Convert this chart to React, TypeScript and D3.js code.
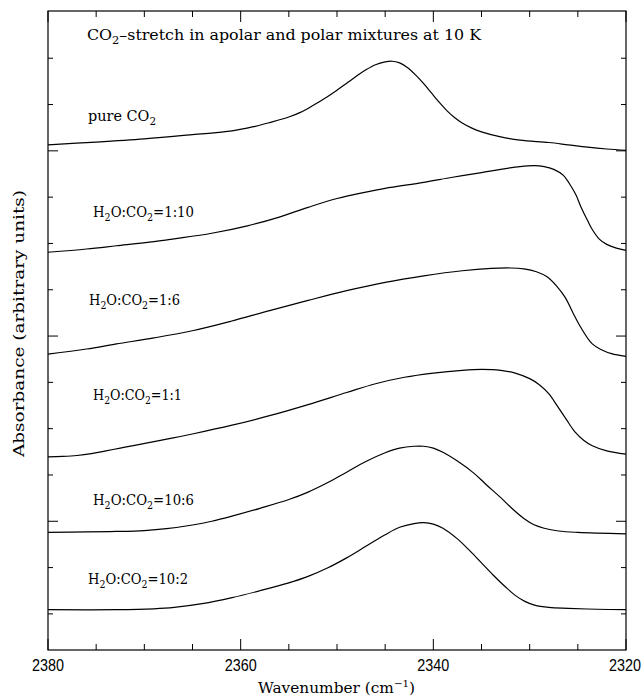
import React from "react";
import * as d3 from "d3";

// wavenumber (cm^-1) / absorbance (arbitrary, offset)
const pureWn = [2380, 2375, 2370, 2365, 2360.9, 2358.5, 2357, 2355, 2353.8, 2352.5, 2351, 2350, 2349, 2348, 2347, 2346, 2345, 2344.3, 2343.5, 2342.7, 2341.8, 2341, 2340.2, 2339.4, 2338.6, 2337.8, 2337, 2336, 2335, 2333, 2331, 2328, 2326, 2324, 2322, 2320];
const pureAbs = [8.13, 8.19, 8.26, 8.35, 8.43, 8.53, 8.61, 8.73, 8.83, 8.98, 9.17, 9.31, 9.46, 9.61, 9.75, 9.86, 9.92, 9.935, 9.9, 9.8, 9.63, 9.45, 9.25, 9.05, 8.87, 8.72, 8.6, 8.49, 8.41, 8.3, 8.23, 8.18, 8.13, 8.08, 8.04, 8.01];

const mix1to10Wn = [2380, 2376, 2372.9, 2369, 2366.9, 2363, 2359.3, 2356, 2353, 2350, 2347, 2345, 2341, 2338, 2335, 2333, 2331, 2329.5, 2328.5, 2327.5, 2326.5, 2325.9, 2325.2, 2324.7, 2324, 2323.5, 2322.8, 2322, 2321, 2320];
const mix1to10Abs = [5.81, 5.88, 5.95, 6.04, 6.1, 6.22, 6.38, 6.57, 6.78, 6.97, 7.11, 7.19, 7.32, 7.43, 7.53, 7.6, 7.66, 7.68, 7.66, 7.6, 7.47, 7.3, 7.05, 6.8, 6.5, 6.3, 6.1, 5.98, 5.9, 5.85];

const mix1to6Wn = [2380, 2376, 2372.9, 2369, 2364.9, 2361, 2357, 2353, 2349, 2345, 2341, 2337, 2334, 2332, 2330.6, 2329.3, 2328.2, 2327.2, 2326.3, 2325.5, 2324.7, 2323.5, 2322.5, 2321.5, 2320];
const mix1to6Abs = [3.61, 3.72, 3.83, 3.96, 4.12, 4.32, 4.55, 4.77, 4.98, 5.16, 5.3, 5.41, 5.46, 5.47, 5.45, 5.39, 5.28, 5.08, 4.83, 4.5, 4.19, 3.83, 3.7, 3.62, 3.56];

const mix1to1Wn = [2380, 2378.5, 2377, 2375.5, 2374, 2372.5, 2371, 2369, 2367, 2364.9, 2361, 2357, 2353, 2349, 2346, 2343, 2340, 2337, 2335, 2333, 2331.5, 2330, 2329, 2328, 2327.1, 2326.2, 2325.3, 2324.4, 2323.5, 2322, 2320];
const mix1to1Abs = [1.39, 1.4, 1.42, 1.46, 1.52, 1.58, 1.64, 1.72, 1.8, 1.89, 2.07, 2.28, 2.52, 2.78, 2.97, 3.11, 3.2, 3.26, 3.28, 3.26, 3.2, 3.08, 2.95, 2.75, 2.48, 2.2, 1.93, 1.75, 1.63, 1.52, 1.45];

const mix10to6Wn = [2380, 2376, 2372.9, 2370, 2367.7, 2365, 2363, 2360.9, 2358, 2355, 2353, 2351, 2349, 2347, 2345, 2343.5, 2342, 2341, 2340, 2339, 2337.5, 2335.8, 2334.5, 2333, 2331.8, 2330.6, 2329.6, 2328.5, 2327, 2325, 2320];
const mix10to6Abs = [-0.24, -0.23, -0.22, -0.2, -0.16, -0.08, 0.0, 0.11, 0.28, 0.47, 0.63, 0.83, 1.06, 1.29, 1.48, 1.58, 1.62, 1.62, 1.58, 1.49, 1.3, 1.04, 0.79, 0.51, 0.27, 0.06, -0.07, -0.15, -0.21, -0.24, -0.27];

const mix10to2Wn = [2380, 2372.9, 2369, 2366.9, 2364, 2360.9, 2358, 2355, 2353, 2351, 2349, 2347, 2345, 2343.5, 2342, 2341, 2340, 2339, 2337.5, 2336.2, 2335, 2333.8, 2332.5, 2331.5, 2330.5, 2329.5, 2328, 2326, 2323, 2320];
const mix10to2Abs = [-1.91, -1.91, -1.89, -1.86, -1.78, -1.65, -1.5, -1.33, -1.19, -1.01, -0.79, -0.54, -0.29, -0.13, -0.05, -0.03, -0.06, -0.15, -0.38, -0.64, -0.9, -1.16, -1.42, -1.6, -1.73, -1.81, -1.86, -1.88, -1.9, -1.91];

const xTickLabels = [2380, 2360, 2340, 2320];

const series = [
  { wn: pureWn, abs: pureAbs },
  { wn: mix1to10Wn, abs: mix1to10Abs },
  { wn: mix1to6Wn, abs: mix1to6Abs },
  { wn: mix1to1Wn, abs: mix1to1Abs },
  { wn: mix10to6Wn, abs: mix10to6Abs },
  { wn: mix10to2Wn, abs: mix10to2Abs },
];

// text pieces: [text, 1 if subscript]
type Piece = [string, number];
const titleText: Piece[] = [["CO", 0], ["2", 1], ["\u2013stretch in apolar and polar mixtures at 10 K", 0]];
const pureText: Piece[] = [["pure CO", 0], ["2", 1]];
const mixText = (r: string): Piece[] => [["H", 0], ["2", 1], ["O:CO", 0], ["2", 1], ["=" + r, 0]];

const labels = [
  { pieces: pureText, x: 88, y: 121, len: 68 },
  { pieces: mixText("1:10"), x: 93, y: 217, len: 101 },
  { pieces: mixText("1:6"), x: 89, y: 305, len: 91 },
  { pieces: mixText("1:1"), x: 93, y: 400, len: 89 },
  { pieces: mixText("10:6"), x: 93, y: 505, len: 101 },
  { pieces: mixText("10:2"), x: 88, y: 584, len: 100 },
];

const serif = "'DejaVu Serif', 'Liberation Serif', serif";

function pieceSpans(pieces: Piece[], size: number) {
  let prev = 0;
  return pieces.map(([t, sub], i) => {
    const dy = (sub - prev) * 4;
    prev = sub;
    return (
      <tspan key={i} dy={dy} fontSize={sub ? size * 0.72 : size}>
        {t}
      </tspan>
    );
  });
}

export default function App() {
  const width = 643;
  const height = 696;
  const left = 48;
  const right = 626;
  const top = 11;
  const bottom = 650;

  const x = d3.scaleLinear().domain([2380, 2320]).range([left, right]);
  const y = d3.scaleLinear().domain([-2.78, 11.02]).range([bottom, top]);

  const lineGen = d3
    .line<[number, number]>()
    .x((d) => x(d[0]))
    .y((d) => y(d[1]))
    .curve(d3.curveCatmullRom.alpha(0.5));

  const xTicks = d3.range(2320, 2381, 5);
  const yTicks = d3.range(-2, 11, 1);

  return (
    <svg
      width={width}
      height={height}
      style={{ position: "absolute", left: 0, top: 0, background: "#fff" }}
    >
      <rect x={0} y={0} width={width} height={height} fill="#fff" />
      <rect
        x={left}
        y={top}
        width={right - left}
        height={bottom - top}
        fill="none"
        stroke="#000"
        strokeWidth={1.2}
      />
      {xTicks.map((t) => {
        const len = t % 20 === 0 ? 11 : 6;
        return (
          <g key={"xt" + t} stroke="#000" strokeWidth={1}>
            <line x1={x(t)} x2={x(t)} y1={bottom} y2={bottom - len} />
            <line x1={x(t)} x2={x(t)} y1={top} y2={top + len} />
          </g>
        );
      })}
      {yTicks.map((t) => {
        const len = t % 4 === 0 ? 10 : 5;
        return (
          <g key={"yt" + t} stroke="#000" strokeWidth={1}>
            <line x1={left} x2={left + len} y1={y(t)} y2={y(t)} />
            <line x1={right} x2={right - len} y1={y(t)} y2={y(t)} />
          </g>
        );
      })}
      {xTickLabels.map((t) => (
        <text
          key={"xl" + t}
          x={t === 2320 ? x(t) - 1 : x(t)}
          y={671}
          textAnchor="middle"
          fontFamily="'Liberation Sans', Arial, sans-serif"
          fontSize={17}
          textLength={32}
          lengthAdjust="spacingAndGlyphs"
        >
          {t}
        </text>
      ))}
      {series.map((s, i) => (
        <path
          key={"s" + i}
          d={lineGen(s.wn.map((w, j) => [w, s.abs[j]] as [number, number])) || ""}
          fill="none"
          stroke="#000"
          strokeWidth={1.2}
        />
      ))}
      <text x={87} y={40} fontFamily={serif} textLength={394} lengthAdjust="spacingAndGlyphs">
        {pieceSpans(titleText, 15)}
      </text>
      {labels.map((l, i) => (
        <text
          key={"l" + i}
          x={l.x}
          y={l.y}
          fontFamily={serif}
          textLength={l.len}
          lengthAdjust="spacingAndGlyphs"
        >
          {pieceSpans(l.pieces, 15)}
        </text>
      ))}
      <text x={258} y={693} fontFamily={serif} fontSize={15} textLength={157} lengthAdjust="spacingAndGlyphs">
        <tspan>Wavenumber (cm</tspan>
        <tspan dy={-6} fontSize={10}>−1</tspan>
        <tspan dy={6}>)</tspan>
      </text>
      <text
        transform={`translate(24,${457}) rotate(-90)`}
        fontFamily={serif}
        fontSize={15}
        textLength={267}
        lengthAdjust="spacingAndGlyphs"
      >
        Absorbance (arbitrary units)
      </text>
    </svg>
  );
}
